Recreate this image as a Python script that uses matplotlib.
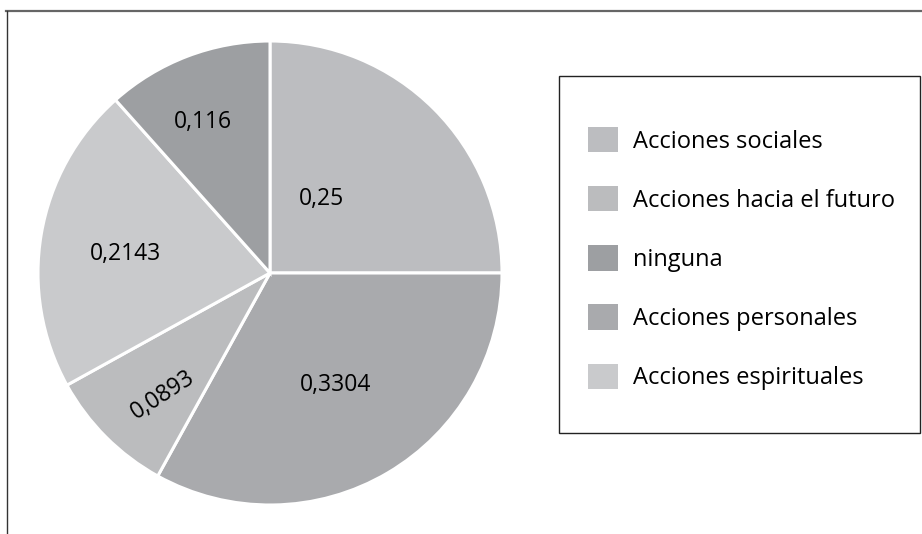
import matplotlib.pyplot as plt
from matplotlib.lines import Line2D
from matplotlib.patches import Rectangle
import numpy as np

plt.rcParams["font.family"] = ["Open Sans", "DejaVu Sans"]

# slices, clockwise from 12 o'clock
categories = ["Acciones sociales", "Acciones personales", "Acciones hacia el futuro",
              "Acciones espirituales", "ninguna"]
values = [0.25, 0.3304, 0.0893, 0.2143, 0.116]
value_labels = ["0,25", "0,3304", "0,0893", "0,2143", "0,116"]
colors = ["#bcbdc0", "#a9aaad", "#bbbcbe", "#c9cacc", "#9d9fa2"]

legend_order = ["Acciones sociales", "Acciones hacia el futuro", "ninguna",
                "Acciones personales", "Acciones espirituales"]

# label placement (fraction of radius, angle shift in deg, rotation)
label_radius = [0.39, 0.56, 0.70, 0.63, 0.71]
label_shift = [10.3, 0, 3.5, 2.3, 3]
label_rotation = [0, 0, 33, 0, 0]

W, H = 922, 534
fig = plt.figure(figsize=(W / 100, H / 100), dpi=100)
ax = fig.add_axes([0, 0, 1, 1])

cx, cy, r = 270, 273, 232

# axes y runs downward, so counterclock=True draws clockwise on screen
wedges, _ = ax.pie(
    values,
    colors=colors,
    startangle=-90,
    counterclock=True,
    center=(cx, cy),
    radius=r,
    wedgeprops=dict(edgecolor="white", linewidth=2.2),
    frame=True,
)
ax.set_xlim(0, W)
ax.set_ylim(H, 0)
ax.set_aspect("equal")
ax.axis("off")

for w, lab, fr, sh, rot in zip(wedges, value_labels, label_radius, label_shift, label_rotation):
    mid = np.deg2rad((w.theta1 + w.theta2) / 2 - sh)
    x = cx + fr * r * np.cos(mid)
    y = cy + fr * r * np.sin(mid)
    ax.text(x, y, lab, ha="center", va="center", fontsize=16.5,
            rotation=rot, rotation_mode="anchor", color="black")

# outer frame (top and left only)
ax.add_line(Line2D([6, W], [11, 11], color="#666666", linewidth=1.6))
ax.add_line(Line2D([7, 7], [11, H], color="#333333", linewidth=1.0))

# legend box
ax.add_patch(Rectangle((559, 76), 361, 357, fill=False, edgecolor="#222222", linewidth=1.0))

by_name = dict(zip(categories, wedges))
handles = [Rectangle((0, 0), 1, 1, facecolor=by_name[n].get_facecolor(), edgecolor="none")
           for n in legend_order]
fig.legend(
    handles,
    legend_order,
    loc="upper left",
    bbox_to_anchor=(588 / W, 1 - 127 / H),
    frameon=False,
    fontsize=17,
    handlelength=1.27,
    handleheight=1.27,
    handletextpad=0.62,
    labelspacing=1.38,
    borderpad=0,
    borderaxespad=0,
)

fig.savefig("out.png", dpi=100)
